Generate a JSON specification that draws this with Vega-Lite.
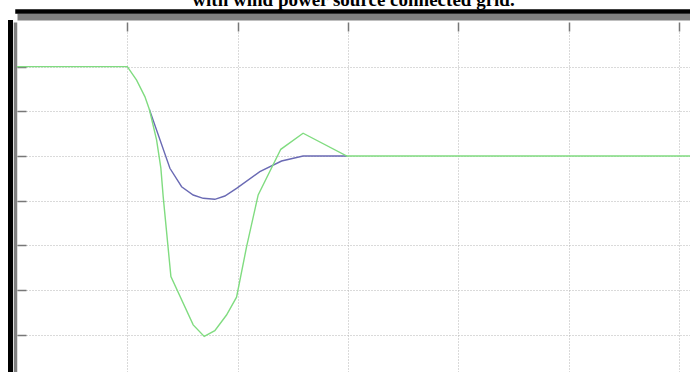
{
  "$schema": "https://vega.github.io/schema/vega-lite/v6.json",
  "width": 673,
  "height": 350,
  "autosize": {"type": "none"},
  "padding": {"left": 17, "top": 22, "right": 0, "bottom": 0},
  "background": "white",
  "config": {"view": {"stroke": null}},
  "title": {
    "text": "with wind power source connected grid.",
    "font": "Liberation Serif",
    "fontSize": 19,
    "fontWeight": "bold",
    "color": "black",
    "anchor": "middle",
    "baseline": "alphabetic",
    "offset": 3,
    "dy": 16.5
  },
  "data": {
    "values": [
      {"t": 0, "v": 7.0, "s": "green"},
      {"t": 1.0, "v": 7.0, "s": "green"},
      {"t": 1.084, "v": 6.70, "s": "green"},
      {"t": 1.159, "v": 6.33, "s": "green"},
      {"t": 1.2, "v": 6.04, "s": "green"},
      {"t": 1.265, "v": 5.36, "s": "green"},
      {"t": 1.304, "v": 4.73, "s": "green"},
      {"t": 1.325, "v": 4.09, "s": "green"},
      {"t": 1.395, "v": 2.30, "s": "green"},
      {"t": 1.597, "v": 1.22, "s": "green"},
      {"t": 1.697, "v": 0.96, "s": "green"},
      {"t": 1.793, "v": 1.09, "s": "green"},
      {"t": 1.899, "v": 1.44, "s": "green"},
      {"t": 1.99, "v": 1.84, "s": "green"},
      {"t": 2.081, "v": 2.97, "s": "green"},
      {"t": 2.186, "v": 4.13, "s": "green"},
      {"t": 2.391, "v": 5.15, "s": "green"},
      {"t": 2.593, "v": 5.51, "s": "green"},
      {"t": 2.99, "v": 5.0, "s": "green"},
      {"t": 6.1, "v": 5.0, "s": "green"},
      {"t": 1.2, "v": 6.04, "s": "blue"},
      {"t": 1.386, "v": 4.725, "s": "blue"},
      {"t": 1.492, "v": 4.313, "s": "blue"},
      {"t": 1.597, "v": 4.127, "s": "blue"},
      {"t": 1.688, "v": 4.053, "s": "blue"},
      {"t": 1.793, "v": 4.031, "s": "blue"},
      {"t": 1.884, "v": 4.105, "s": "blue"},
      {"t": 1.99, "v": 4.277, "s": "blue"},
      {"t": 2.201, "v": 4.649, "s": "blue"},
      {"t": 2.398, "v": 4.888, "s": "blue"},
      {"t": 2.593, "v": 5.0, "s": "blue"},
      {"t": 2.99, "v": 5.0, "s": "blue"}
    ]
  },
  "layer": [
    {
      "transform": [{"filter": "datum.s === 'blue'"}],
      "mark": {"type": "line", "color": "#6a6ab4", "strokeWidth": 1.4},
      "encoding": {
        "x": {"field": "t", "type": "quantitative", "scale": {"domain": [0, 6.1], "nice": false, "zero": false},
          "axis": {"orient": "top", "offset": 0, "domain": false, "labels": false, "ticks": true, "tickSize": -9, "tickColor": "#777777", "tickWidth": 1.5, "grid": true, "gridColor": "#b4b4b4", "gridDash": [1, 2], "gridWidth": 1, "values": [1, 2, 3, 4, 5, 6], "title": null}},
        "y": {"field": "v", "type": "quantitative", "scale": {"domain": [0.165, 8], "nice": false, "zero": false},
          "axis": {"orient": "left", "offset": 0, "domain": false, "labels": false, "ticks": true, "tickSize": -9, "tickColor": "#777777", "tickWidth": 1.5, "grid": true, "gridColor": "#b4b4b4", "gridDash": [1, 2], "gridWidth": 1, "values": [1, 2, 3, 4, 5, 6, 7], "title": null}}
      }
    },
    {
      "transform": [{"filter": "datum.s === 'green'"}],
      "mark": {"type": "line", "color": "#80dc80", "strokeWidth": 1.4},
      "encoding": {
        "x": {"field": "t", "type": "quantitative",
          "axis": {"orient": "top", "offset": 5.5, "domain": true, "domainColor": "#808080", "domainWidth": 7, "labels": false, "ticks": false, "grid": false, "title": null}},
        "y": {"field": "v", "type": "quantitative",
          "axis": {"orient": "left", "offset": 2, "domain": true, "domainColor": "#808080", "domainWidth": 3.5, "labels": false, "ticks": false, "grid": false, "title": null}}
      }
    },
    {
      "mark": {"type": "point", "opacity": 0},
      "encoding": {
        "x": {"field": "t", "type": "quantitative",
          "axis": {"orient": "top", "offset": 11, "domain": true, "domainColor": "black", "domainWidth": 4.5, "domainCap": "square", "labels": false, "ticks": false, "grid": false, "title": null}},
        "y": {"field": "v", "type": "quantitative",
          "axis": {"orient": "left", "offset": 7, "domain": true, "domainColor": "black", "domainWidth": 5, "domainCap": "square", "labels": false, "ticks": false, "grid": false, "title": null}}
      }
    }
  ],
  "resolve": {"axis": {"x": "independent", "y": "independent"}}
}
